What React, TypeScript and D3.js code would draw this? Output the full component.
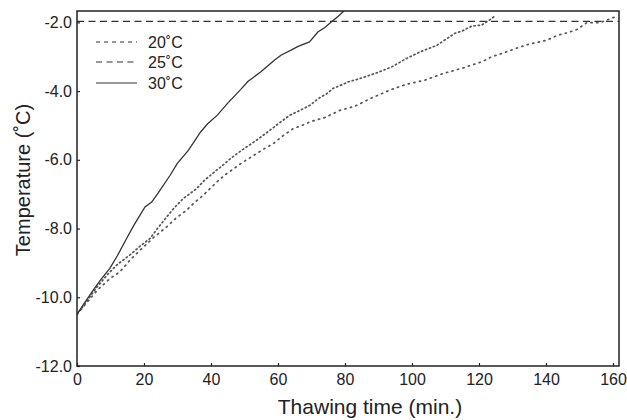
import React, { useEffect, useRef } from "react";
import * as d3 from "d3";

// 30°C (solid)
const time30 = [0, 2, 4.8, 7, 9.8, 12, 14.8, 17, 20.3, 22.3, 24, 27.8, 29.9, 33.3, 36.9, 39, 41.9, 45, 48.9, 51, 54.9, 58.9, 61, 63.9, 66, 69.4, 71.9, 74, 75.9, 78, 79.9];
const temp30 = [-10.5, -10.2, -9.8, -9.5, -9.16, -8.8, -8.29, -7.9, -7.37, -7.23, -7.0, -6.45, -6.11, -5.72, -5.19, -4.95, -4.7, -4.35, -3.95, -3.72, -3.44, -3.1, -2.95, -2.81, -2.7, -2.57, -2.28, -2.15, -1.99, -1.82, -1.65];

// 25°C
const time25 = [0, 3, 6, 9, 12, 16.3, 19, 21.8, 24, 26.8, 29, 31.7, 35.7, 38, 41.7, 44, 46, 49.2, 53.6, 57.6, 60.5, 63.6, 66.6, 69.6, 72, 74.5, 76.5, 79.5, 81, 84, 86.5, 90, 93.9, 98.4, 102.4, 107.4, 110, 112.8, 115, 117.8, 120.8, 123.8, 125.1];
const temp25 = [-10.5, -10.1, -9.7, -9.35, -9.05, -8.73, -8.5, -8.29, -8.0, -7.66, -7.4, -7.13, -6.84, -6.6, -6.3, -6.12, -5.95, -5.72, -5.43, -5.14, -4.92, -4.7, -4.56, -4.41, -4.22, -4.08, -3.92, -3.8, -3.73, -3.65, -3.57, -3.45, -3.3, -3.05, -2.86, -2.67, -2.5, -2.32, -2.25, -2.11, -2.08, -1.89, -1.79];

// 20°C
const time20 = [0, 3, 6, 9.9, 12.8, 16, 19.8, 23, 26.8, 29.5, 32.7, 35, 37.7, 41.7, 44, 46.2, 49.2, 53.1, 55.5, 58.6, 61.5, 64.6, 66.6, 70, 74, 78.5, 83, 87.5, 93.4, 98.4, 103.9, 109.3, 114.8, 120.8, 123.8, 127.3, 131, 134.7, 140.2, 143.7, 146.5, 149.2, 152.2, 156.1, 160.1, 161.5];
const temp20 = [-10.5, -10.15, -9.8, -9.45, -9.26, -8.9, -8.54, -8.25, -7.95, -7.7, -7.47, -7.25, -7.03, -6.65, -6.45, -6.3, -6.09, -5.85, -5.7, -5.53, -5.3, -5.09, -5.02, -4.88, -4.77, -4.56, -4.44, -4.22, -3.97, -3.8, -3.68, -3.49, -3.34, -3.15, -3.0, -2.89, -2.76, -2.64, -2.52, -2.37, -2.3, -2.21, -2.01, -2.01, -1.86, -1.83];

const xTicks = [0, 20, 40, 60, 80, 100, 120, 140, 160];
const yTicks = [-2, -4, -6, -8, -10, -12];
const refTemp = -1.97; // dashed reference line

const seriesList = [
  { name: "20˚C", time: time20, temp: temp20, dash: "1.2,4.5", legendDash: "4,4", width: 1.7, color: "#555" },
  { name: "25˚C", time: time25, temp: temp25, dash: "1.2,3", legendDash: "6,4.5", width: 1.7, color: "#555" },
  { name: "30˚C", time: time30, temp: temp30, dash: null, legendDash: null, width: 1.3, color: "#333" },
];

const FONT = "'Liberation Sans', Arial, sans-serif";

const App = () => {
  const svgRef = useRef<SVGSVGElement>(null);

  useEffect(() => {
    const svg = d3.select(svgRef.current);
    svg.selectAll("*").remove();

    const left = 77;
    const right = 619;
    const top = 11;
    const bottom = 366;

    const x = d3.scaleLinear().domain([0, 161.8]).range([left, right]);
    const y = d3.scaleLinear().domain([-12, -1.67]).range([bottom, top]);

    const line = d3
      .line<[number, number]>()
      .x((d) => x(d[0]))
      .y((d) => y(d[1]));

    const g = svg.append("g");
    g.append("defs")
      .append("clipPath")
      .attr("id", "plotClip")
      .append("rect")
      .attr("x", left)
      .attr("y", top)
      .attr("width", right - left)
      .attr("height", bottom - top);

    const plot = g.append("g").attr("clip-path", "url(#plotClip)");

    plot
      .append("line")
      .attr("x1", left)
      .attr("x2", right)
      .attr("y1", y(refTemp))
      .attr("y2", y(refTemp))
      .attr("stroke", "#333")
      .attr("stroke-width", 1.3)
      .attr("stroke-dasharray", "7,4.5");

    seriesList.forEach((s) => {
      const pts = s.time.map((t, i) => [t, s.temp[i]] as [number, number]);
      plot
        .append("path")
        .attr("d", line(pts))
        .attr("fill", "none")
        .attr("stroke", s.color)
        .attr("stroke-width", s.width)
        .attr("stroke-dasharray", s.dash)
        .attr("stroke-linecap", s.dash ? "round" : "butt");
    });

    // axes
    const xAxis = g
      .append("g")
      .attr("transform", `translate(0,${bottom})`)
      .call(
        d3
          .axisBottom(x)
          .tickValues(xTicks)
          .tickSize(-3)
          .tickPadding(8)
          .tickSizeOuter(0)
          .tickFormat((d) => String(d))
      );
    const yAxis = g
      .append("g")
      .attr("transform", `translate(${left},0)`)
      .call(
        d3
          .axisLeft(y)
          .tickValues(yTicks)
          .tickSize(-3)
          .tickPadding(5)
          .tickSizeOuter(0)
          .tickFormat((d) => (d as number).toFixed(1))
      );
    [xAxis, yAxis].forEach((a) => {
      a.select(".domain").remove();
      a.selectAll("line").attr("stroke", "#222").attr("stroke-width", 1.2);
      a.selectAll("text")
        .attr("fill", "#222")
        .style("font-family", FONT)
        .style("font-size", "16px");
    });

    // frame
    g.append("rect")
      .attr("x", left)
      .attr("y", top)
      .attr("width", right - left)
      .attr("height", bottom - top)
      .attr("fill", "none")
      .attr("stroke", "#222")
      .attr("stroke-width", 1.5);

    // legend
    const legend = g.append("g");
    const legendY = [42, 62, 83];
    seriesList.forEach((s, i) => {
      legend
        .append("line")
        .attr("x1", 96)
        .attr("x2", 137)
        .attr("y1", legendY[i])
        .attr("y2", legendY[i])
        .attr("stroke", "#333")
        .attr("stroke-width", 1.2)
        .attr("stroke-dasharray", s.legendDash);
      legend
        .append("text")
        .attr("x", 148)
        .attr("y", legendY[i])
        .attr("dy", "0.36em")
        .attr("fill", "#222")
        .style("font-family", FONT)
        .style("font-size", "16px")
        .text(s.name);
    });

    // axis titles
    g.append("text")
      .attr("x", 370)
      .attr("y", 414)
      .attr("text-anchor", "middle")
      .attr("fill", "#222")
      .style("font-family", FONT)
      .style("font-size", "21px")
      .text("Thawing time (min.)");
    g.append("text")
      .attr("transform", `translate(30,180) rotate(-90)`)
      .attr("text-anchor", "middle")
      .attr("fill", "#222")
      .style("font-family", FONT)
      .style("font-size", "20px")
      .text("Temperature (˚C)");
  }, []);

  return (
    <svg
      ref={svgRef}
      width={627}
      height={420}
      style={{ position: "absolute", left: 0, top: 0, background: "#fff" }}
    />
  );
};

export default App;
